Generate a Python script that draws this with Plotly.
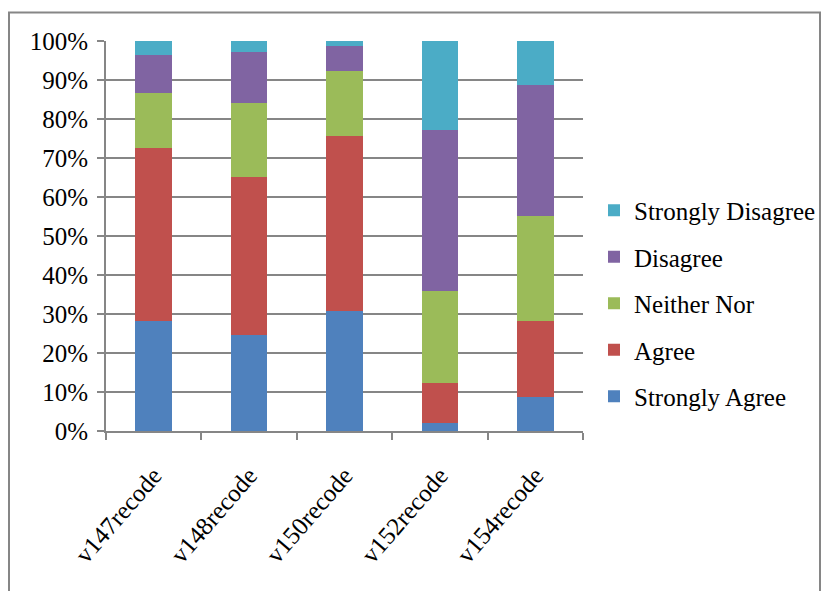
import plotly.graph_objects as go

categories = ["v147recode", "v148recode", "v150recode", "v152recode", "v154recode"]
strongly_agree = [28.3, 24.5, 30.8, 2.0, 8.7]
agree = [44.2, 40.7, 44.8, 10.4, 19.4]
neither_nor = [14.1, 18.8, 16.7, 23.6, 27.1]
disagree = [9.9, 13.2, 6.4, 41.2, 33.6]
strongly_disagree = [3.5, 2.8, 1.3, 22.8, 11.2]

series = [
    ("Strongly Agree", strongly_agree, "#4F81BD"),
    ("Agree", agree, "#C0504D"),
    ("Neither Nor", neither_nor, "#9BBB59"),
    ("Disagree", disagree, "#8064A2"),
    ("Strongly Disagree", strongly_disagree, "#4BACC6"),
]

FONT = "Liberation Serif, Times New Roman, serif"
GRID = "#868686"

fig = go.Figure()
n = len(series)
for i, (name, vals, col) in enumerate(series):
    fig.add_trace(go.Bar(
        x=categories, y=vals, name=name, legendgroup=name,
        legendrank=n - i,
        marker=dict(color=col, line=dict(width=0)),
        width=0.383,
    ))

W, H = 822, 591
L, R, T, B = 106, 583, 41, 431
pw, ph = R - L, B - T

def px_x(x):
    return (x - L) / pw

def px_y(y):
    return (B - y) / ph

fig.update_layout(
    width=W, height=H,
    margin=dict(l=L, r=W - R, t=T, b=H - B, pad=0, autoexpand=False),
    barmode="stack",
    bargap=0.617,
    plot_bgcolor="white", paper_bgcolor="white",
    font=dict(family=FONT, size=25, color="black"),
    showlegend=True,
    legend=dict(
        traceorder="grouped",
        x=px_x(594), xanchor="left",
        y=px_y(303.5), yanchor="middle",
        font=dict(family=FONT, size=25, color="black"),
        tracegroupgap=11,
        bgcolor="rgba(0,0,0,0)",
    ),
    xaxis=dict(
        type="category",
        showgrid=False,
        showline=True, linecolor=GRID, linewidth=2,
        ticks="outside", ticklen=7, tickwidth=2, tickcolor=GRID,
        tickson="boundaries",
        tickangle=-49,
        ticklabelstandoff=18,
        tickfont=dict(family=FONT, size=25, color="black"),
        range=[-0.5, 4.5],
    ),
    yaxis=dict(
        range=[0, 100],
        dtick=10, tick0=0,
        ticksuffix="%",
        showgrid=True, gridcolor=GRID, gridwidth=2,
        showline=True, linecolor=GRID, linewidth=2,
        ticks="outside", ticklen=7, tickwidth=2, tickcolor=GRID,
        ticklabelstandoff=4,
        tickfont=dict(family=FONT, size=25, color="black"),
        zeroline=False,
    ),
    shapes=[dict(
        type="rect", xref="paper", yref="paper",
        x0=px_x(9), x1=px_x(820), y0=px_y(620), y1=px_y(12.5),
        line=dict(color=GRID, width=2), fillcolor="rgba(0,0,0,0)",
        layer="below",
    )],
)

fig.write_html("out.html")
